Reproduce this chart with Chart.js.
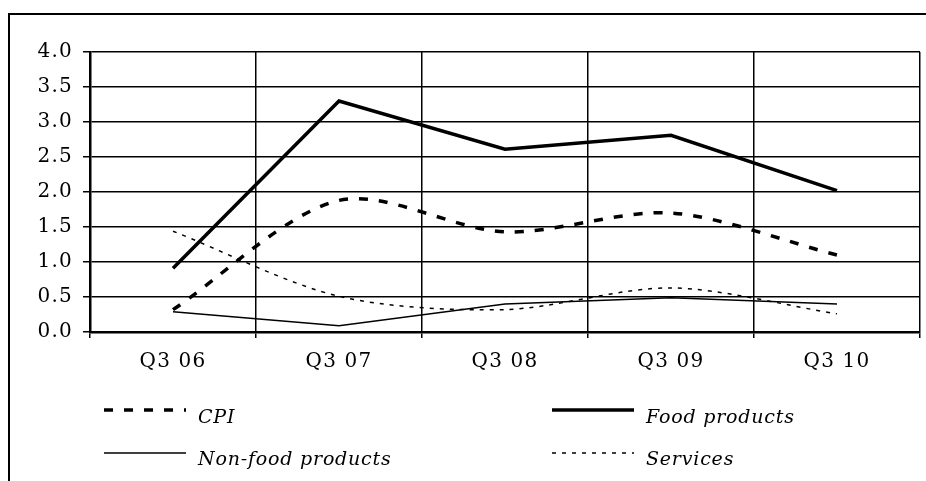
<!DOCTYPE html>
<html>
<head>
<meta charset="utf-8">
<script src="https://cdn.jsdelivr.net/npm/chart.js@4"></script>
<style>
  body { margin: 0; background: #fff; }
  canvas { display: block; }
</style>
</head>
<body>
<canvas id="priceChart" width="926" height="481"></canvas>
<script>
  const quarters = ['Q3 06', 'Q3 07', 'Q3 08', 'Q3 09', 'Q3 10'];
  const cpi = [0.32, 1.88, 1.43, 1.70, 1.10];
  const foodProducts = [0.91, 3.30, 2.61, 2.81, 2.02];
  const nonFoodProducts = [0.29, 0.09, 0.40, 0.49, 0.40];
  const services = [1.44, 0.51, 0.32, 0.63, 0.26];
  const yTicks = [0, 0.5, 1, 1.5, 2, 2.5, 3, 3.5, 4];

  const tickFont = { family: '"DejaVu Serif", serif', size: 20 };

  // left and top edges of the surrounding frame
  const framePlugin = {
    id: 'frame',
    beforeDraw(chart) {
      const ctx = chart.ctx;
      ctx.save();
      ctx.strokeStyle = '#000';
      ctx.lineWidth = 2;
      ctx.beginPath();
      ctx.moveTo(9, chart.height);
      ctx.lineTo(9, 14);
      ctx.lineTo(chart.width, 14);
      ctx.stroke();
      ctx.restore();
      // slightly wider spacing for the axis labels
      ctx.letterSpacing = '1.2px';
    }
  };

  // two-column legend under the axis
  const legendPlugin = {
    id: 'gridLegend',
    afterDraw(chart) {
      const ctx = chart.ctx;
      const cols = [104, 552];
      const lineY = [410, 453];
      const textY = [423, 465];
      ctx.save();
      ctx.letterSpacing = '0.8px';
      ctx.font = 'italic 19px "DejaVu Serif", serif';
      ctx.fillStyle = '#000';
      ctx.textBaseline = 'alphabetic';
      chart.data.datasets.forEach((ds, i) => {
        const x = cols[i % 2];
        const row = Math.floor(i / 2);
        ctx.save();
        ctx.strokeStyle = ds.borderColor;
        ctx.lineWidth = ds.borderWidth;
        ctx.setLineDash(ds.borderDash || []);
        ctx.beginPath();
        ctx.moveTo(x, lineY[row]);
        ctx.lineTo(x + 82, lineY[row]);
        ctx.stroke();
        ctx.restore();
        ctx.fillText(ds.label, x + 94, textY[row]);
      });
      ctx.restore();
    }
  };

  const ctx = document.getElementById('priceChart').getContext('2d');
  const chart = new Chart(ctx, {
    type: 'line',
    data: {
      labels: quarters,
      datasets: [
        { label: 'CPI', data: cpi, borderColor: '#000', borderWidth: 3.5, borderDash: [9, 11], tension: 0.3 },
        { label: 'Food products', data: foodProducts, borderColor: '#000', borderWidth: 3.5, tension: 0 },
        { label: 'Non-food products', data: nonFoodProducts, borderColor: '#000', borderWidth: 1.5, tension: 0 },
        { label: 'Services', data: services, borderColor: '#000', borderWidth: 1.5, borderDash: [4, 6], tension: 0.3 }
      ]
    },
    options: {
      responsive: false,
      animation: false,
      elements: { point: { radius: 0, hoverRadius: 0 } },
      layout: { padding: { left: 0, right: 6, top: 52, bottom: 109 } },
      plugins: { legend: { display: false }, tooltip: { enabled: false } },
      scales: {
        x: {
          offset: true,
          grid: { offset: true, color: '#000', lineWidth: 1.5, tickLength: 6, tickColor: '#000', tickWidth: 1.5 },
          border: { color: '#000', width: 2.5 },
          ticks: { color: '#000', font: tickFont, padding: 12, maxRotation: 0 },
          afterFit: s => { s.height = 40; }
        },
        y: {
          min: 0,
          max: 4,
          grid: { color: '#000', lineWidth: 1.5, tickLength: 7, tickColor: '#000', tickWidth: 1.5 },
          border: { color: '#000', width: 2.5 },
          ticks: { color: '#000', font: tickFont, padding: 10, callback: v => v.toFixed(1) },
          afterBuildTicks: s => { s.ticks = yTicks.map(v => ({ value: v })); },
          afterFit: s => { s.width = 90; }
        }
      }
    },
    plugins: [framePlugin, legendPlugin]
  });
</script>
</body>
</html>
